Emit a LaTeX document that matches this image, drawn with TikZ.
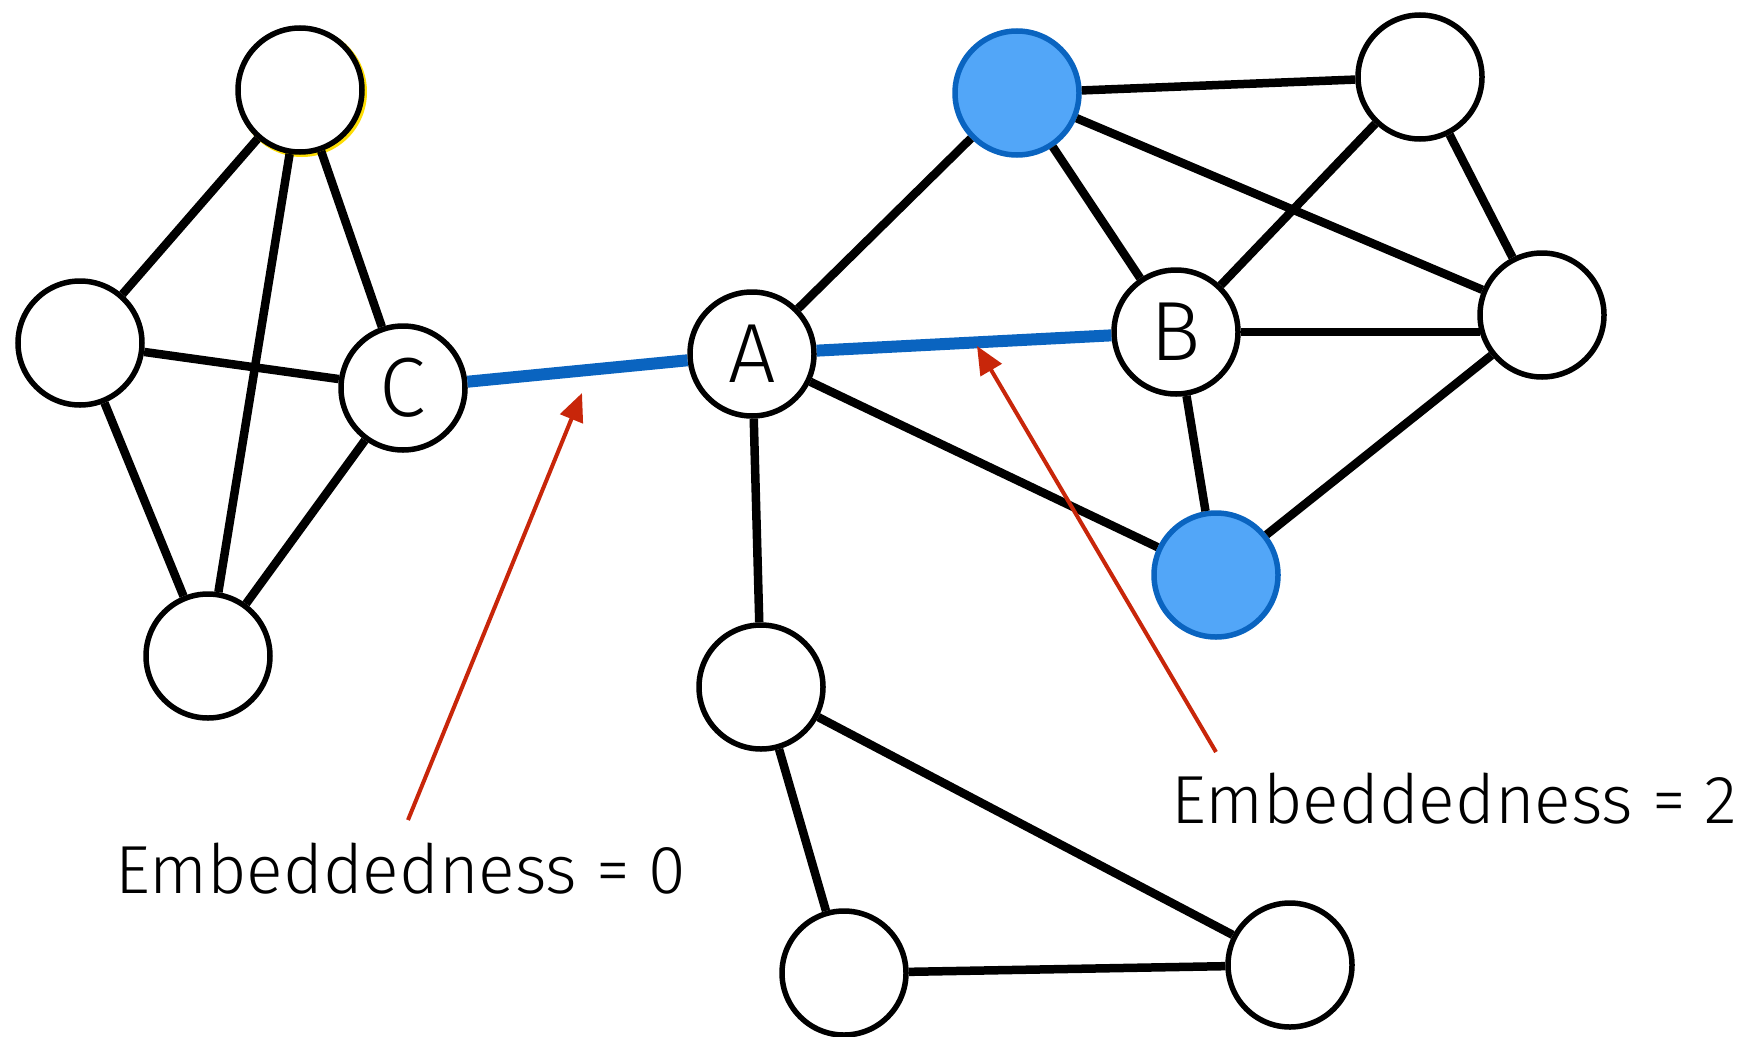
\documentclass[tikz,border=0pt]{standalone}
\usepackage{fontspec}
\setmainfont{Fira Sans Light}
\usetikzlibrary{arrows.meta}
\definecolor{edgeblue}{HTML}{0A64C0}
\definecolor{nodeblue}{HTML}{52A6F8}
\definecolor{arrowred}{HTML}{C8260A}
\begin{document}
\begin{tikzpicture}[x=1pt,y=-1pt,
  vert/.style={circle,draw=black,line width=5.5pt,fill=white,minimum size=124pt,inner sep=0pt,font=\fontsize{84}{84}\selectfont},
  bluevert/.style={vert,draw=edgeblue,fill=nodeblue},
  edge/.style={line width=8.5pt,black},
  bedge/.style={line width=12pt,edgeblue},
  pointer/.style={line width=4pt,arrowred,-{Triangle[length=28pt,width=24pt]}},
  lbl/.style={anchor=base west,inner sep=0pt,font=\fontsize{68}{68}\selectfont}]
\useasboundingbox[fill=white] (0,0) rectangle (1747,1036);
% slight yellow shadow on top-left node
\fill[yellow!80!orange] (302,92) circle (65pt);
\node[vert] (tl) at (300,90) {};
\node[vert] (l) at (80,343) {};
\node[vert] (c) at (403,388) {C};
\node[vert] (bl) at (208,656) {};
\node[vert] (a) at (752,354) {A};
\node[bluevert] (bt) at (1017,93) {};
\node[vert] (tr) at (1420,77) {};
\node[vert] (b) at (1176,332) {B};
\node[vert] (r) at (1542,315) {};
\node[bluevert] (bb) at (1216,575) {};
\node[vert] (bm) at (761,687) {};
\node[vert] (bo) at (844,973) {};
\node[vert] (br) at (1290,965) {};
\draw[edge] (tl) -- (l);
\draw[edge] (tl) -- (bl);
\draw[edge] (tl) -- (c);
\draw[edge] (l) -- (c);
\draw[edge] (l) -- (bl);
\draw[edge] (c) -- (bl);
\draw[bedge] (c) -- (a);
\draw[edge] (a) -- (bt);
\draw[bedge] (a) -- (b);
\draw[edge] (a) -- (bb);
\draw[edge] (a) -- (bm);
\draw[edge] (bt) -- (tr);
\draw[edge] (bt) -- (r);
\draw[edge] (bt) -- (b);
\draw[edge] (tr) -- (b);
\draw[edge] (tr) -- (r);
\draw[edge] (b.east) -- ([xshift=3pt]r.west |- b.east);
\draw[edge] (b) -- (bb);
\draw[edge] (r) -- (bb);
\draw[edge] (bm) -- (bo);
\draw[edge] (bm) -- (br);
\draw[edge] (bo) -- (br);
\coordinate (t1) at (408,820);
\coordinate (h1) at (582,393);
\coordinate (t2) at (1216,752);
\coordinate (h2) at (977,346);
\draw[pointer] (t1) -- (h1);
\draw[pointer] (t2) -- (h2);
\node[lbl] (lab0) at (115,893) {Embeddedness = 0};
\node[lbl] (lab2) at (1171,823) {Embeddedness = 2};
\end{tikzpicture}
\end{document}
